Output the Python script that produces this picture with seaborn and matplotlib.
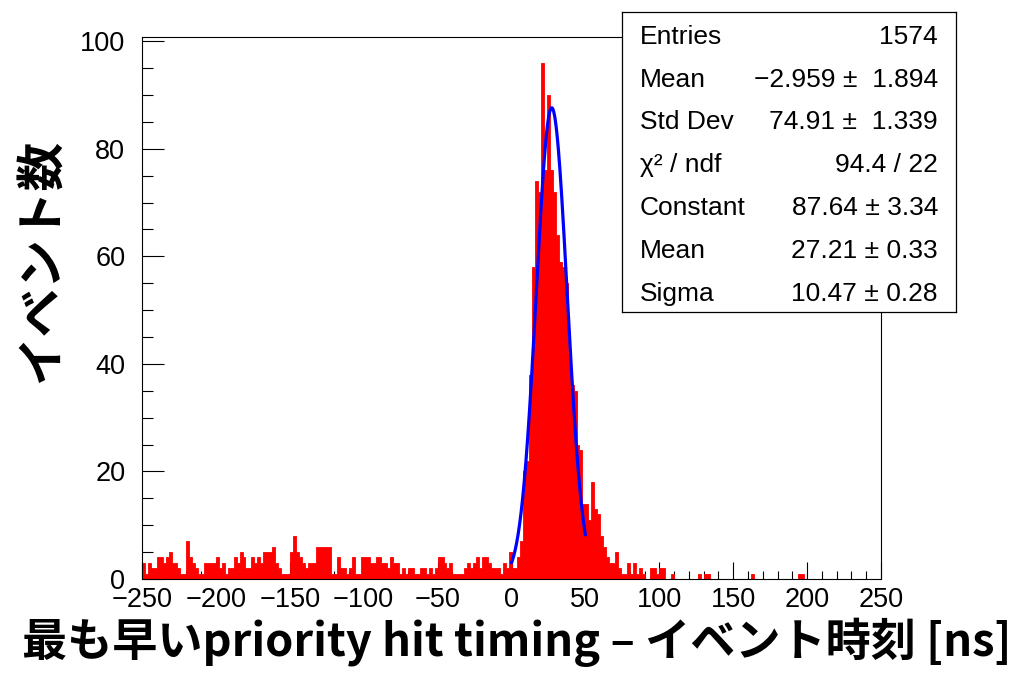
import numpy as np
import pandas as pd
import matplotlib
matplotlib.use("Agg")
import matplotlib.pyplot as plt
from matplotlib.ticker import MultipleLocator
import seaborn as sns

# Histogram binning [ns]
x_min, x_max, bin_width = -250, 250, 2

# Entries per 2 ns bin from -250 to -10 ns
bg_counts = [
    3, 1, 3, 2, 2, 4, 4, 3, 4, 5,
    3, 3, 2, 1, 1, 7, 4, 3, 2, 1,
    1, 3, 3, 3, 3, 4, 2, 3, 1, 2,
    2, 4, 3, 5, 4, 2, 2, 4, 3, 4,
    3, 5, 5, 5, 6, 3, 2, 1, 1, 1,
    5, 8, 5, 4, 3, 2, 3, 3, 3, 6,
    6, 6, 6, 6, 1, 1, 4, 2, 2, 1,
    2, 4, 1, 1, 4, 4, 4, 3, 3, 4,
    4, 3, 3, 2, 4, 3, 3, 1, 2, 1,
    2, 2, 1, 1, 2, 2, 1, 2, 1, 2,
    4, 4, 3, 2, 3, 1, 1, 1, 1, 2,
    3, 2, 3, 4, 2, 4, 4, 3, 2, 2,
]
# Entries per 2 ns bin from -10 to 120 ns
core_counts = [
    2, 1, 3, 2, 5,
    2, 2, 4, 7, 20, 22, 38, 58, 74, 72,
    96, 76, 90, 76, 72, 64, 59, 58, 55, 42,
    36, 35, 25, 24, 14, 14, 11, 18, 13, 12,
    8, 6, 4, 3, 3, 5, 2, 1, 1, 3,
    1, 3, 1, 2, 1, 0, 0, 2, 2, 1,
    2, 2, 0, 0, 1, 0, 0, 0, 0, 0,
]
# Lower edges [ns] of the isolated single-entry bins above 120 ns
tail_single = [126, 130, 132, 162, 194, 196]

# Gaussian fit result and fit range [ns]
fit_const, fit_mean, fit_sigma = 87.64, 27.21, 10.47
fit_lo, fit_hi = 0, 50

stats_labels = ["Entries", "Mean", "Std Dev", "χ² / ndf", "Constant", "Mean", "Sigma"]
stats_values = ["1574", "\u22122.959 \u00b1  1.894", "74.91 \u00b1  1.339", "94.4 / 22",
                "87.64 \u00b1 3.34", "27.21 \u00b1 0.33", "10.47 \u00b1 0.28"]

x_ticks = [-250, -200, -150, -100, -50, 0, 50, 100, 150, 200, 250]
y_ticks = [0, 20, 40, 60, 80, 100]

x_title = "最も早いpriority hit timing – イベント時刻 [ns]"
y_title = "イベント数"

# ---- assemble the histogram ----
edges = np.arange(x_min, x_max + bin_width, bin_width)
counts = np.zeros(len(edges) - 1)
counts[:len(bg_counts)] = bg_counts
counts[len(bg_counts):len(bg_counts) + len(core_counts)] = core_counts
for t in tail_single:
    counts[(t - x_min) // bin_width] += 1
hist_df = pd.DataFrame({"t": edges[:-1] + bin_width / 2, "n": counts})

fit_t = np.linspace(fit_lo, fit_hi, 201)
fit_df = pd.DataFrame({
    "t": fit_t,
    "y": fit_const * np.exp(-0.5 * ((fit_t - fit_mean) / fit_sigma) ** 2),
})

sns.set_theme(style="ticks")
plt.rcParams["font.family"] = ["Liberation Sans", "DejaVu Sans"]
plt.rcParams["axes.unicode_minus"] = True

fig = plt.figure(figsize=(10.18, 6.74), dpi=100)
ax = fig.add_axes([142 / 1018, 1 - 579 / 674, 739 / 1018, 542 / 674])

sns.histplot(data=hist_df, x="t", weights="n", binwidth=bin_width,
             binrange=(x_min, x_max), element="step", fill=True,
             color="#ff0000", alpha=1.0, edgecolor="#ff0000",
             linewidth=0.6, ax=ax)
sns.lineplot(data=fit_df, x="t", y="y", color="#0000ff", linewidth=2.3, ax=ax)

ax.set_xlim(x_min, x_max)
ax.set_ylim(0, 100.8)
ax.set_xlabel("")
ax.set_ylabel("")
ax.set_xticks(x_ticks)
ax.set_yticks(y_ticks)
ax.xaxis.set_minor_locator(MultipleLocator(10))
ax.yaxis.set_minor_locator(MultipleLocator(5))
ax.tick_params(axis="both", which="both", direction="in", top=False, right=False,
               color="black", width=0.8, labelsize=19.5, labelcolor="black")
ax.tick_params(axis="x", which="major", length=12, pad=6)
ax.tick_params(axis="x", which="minor", length=6)
ax.tick_params(axis="y", which="major", length=16, pad=12)
ax.tick_params(axis="y", which="minor", length=8)
for s in ax.spines.values():
    s.set_color("black")
    s.set_linewidth(0.8)
ax.set_facecolor("white")

# statistics box
bx = fig.add_axes([622 / 1018, 1 - 312 / 674, 334 / 1018, 300 / 674], zorder=5)
bx.set_facecolor("white")
bx.set_xticks([])
bx.set_yticks([])
bx.set_xlim(0, 1)
bx.set_ylim(0, 1)
for s in bx.spines.values():
    s.set_color("black")
    s.set_linewidth(0.9)
n_rows = len(stats_labels)
for i, (lab, val) in enumerate(zip(stats_labels, stats_values)):
    yy = (n_rows - 0.5 - i) / n_rows - 0.011
    bx.text(0.054, yy, lab, ha="left", va="center", fontsize=19, color="black")
    bx.text(0.946, yy, val, ha="right", va="center", fontsize=19, color="black")

cjk = ["Noto Sans CJK JP", "DejaVu Sans"]
fig.text(517 / 1018, 1 - 642 / 674, x_title, ha="center", va="center",
         fontsize=32.5, fontweight="bold", family=cjk, color="black")
fig.text(42 / 1018, 1 - 260 / 674, y_title, ha="center", va="center",
         rotation=90, fontsize=35, fontweight="bold", family=cjk, color="black")

fig.savefig("out.png", dpi=100, facecolor="white")
